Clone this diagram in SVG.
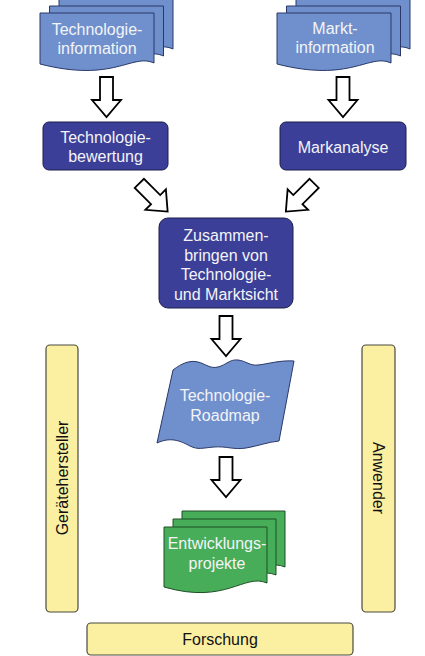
<svg xmlns="http://www.w3.org/2000/svg" xmlns:xlink="http://www.w3.org/1999/xlink" width="425" height="656" viewBox="0 0 425 656">
<defs>
<style>
.doc{fill:#6f90cc;stroke:#2a3868;stroke-width:1}
.green{fill:#47ad58;stroke:#1e4f27;stroke-width:1}
.box{fill:#3b3f97;stroke:#1c1e4a;stroke-width:1}
.bar{fill:#fbf0a2;stroke:#4a4a40;stroke-width:1.2}
.arr{fill:#ffffff;stroke:#000000;stroke-width:1.8;stroke-linejoin:miter}
.wt{fill:#f4f4f8;font-family:"Liberation Sans",Arial,sans-serif;font-size:16px;text-anchor:middle}
.bt{fill:#111111;font-family:"Liberation Sans",Arial,sans-serif;font-size:16px;text-anchor:middle}
</style>
<path id="docA" d="M0,0 H114 V50 C92,40 74,70 0,51 Z"/>
<path id="docG" d="M0,0 H103 V56 C80,46 62,78 0,60 Z"/>
<polygon id="arrow" points="-6.5,-20 6.5,-20 6.5,3 14.5,3 0,20 -14.5,3 -6.5,3"/>
</defs>

<g id="connectors">
<use xlink:href="#arrow" class="arr" transform="translate(106.5,97)"/>
<use xlink:href="#arrow" class="arr" transform="translate(343,97)"/>
<use xlink:href="#arrow" class="arr" transform="translate(153.5,197.5) rotate(-45)"/>
<use xlink:href="#arrow" class="arr" transform="translate(300,197.5) rotate(45)"/>
<use xlink:href="#arrow" class="arr" transform="translate(226,336)"/>
<use xlink:href="#arrow" class="arr" transform="translate(226,477)"/>
</g>

<g id="technologieinformation">
<use xlink:href="#docA" class="doc" transform="translate(59,-1)"/>
<use xlink:href="#docA" class="doc" transform="translate(49.5,6)"/>
<use xlink:href="#docA" class="doc" transform="translate(40,13)"/>
<text class="wt" x="97" y="35">Technologie-</text>
<text class="wt" x="97" y="54">information</text>
</g>

<g id="marktinformation">
<use xlink:href="#docA" class="doc" transform="translate(296,-1)"/>
<use xlink:href="#docA" class="doc" transform="translate(286.5,6)"/>
<use xlink:href="#docA" class="doc" transform="translate(277,13)"/>
<text class="wt" x="335" y="34">Markt-</text>
<text class="wt" x="335" y="53">information</text>
</g>

<g id="technologiebewertung">
<rect class="box" x="43" y="122" width="125" height="48" rx="6"/>
<text class="wt" x="105.5" y="143">Technologie-</text>
<text class="wt" x="105.5" y="162">bewertung</text>
</g>

<g id="markanalyse">
<rect class="box" x="280" y="122" width="126" height="48" rx="6"/>
<text class="wt" x="343" y="152.5">Markanalyse</text>
</g>

<g id="zusammenbringen">
<rect class="box" x="159" y="218" width="134" height="90" rx="9"/>
<text class="wt" x="226" y="241">Zusammen-</text>
<text class="wt" x="226" y="260.5">bringen von</text>
<text class="wt" x="226" y="280">Technologie-</text>
<text class="wt" x="226" y="299.5">und Marktsicht</text>
</g>

<g id="roadmap">
<path class="doc" d="M173,370 C182,363 190,360 198,362 C206,364 210,369 218,367 C226,365 230,359 238,360 C246,361 250,366 258,365 C268,364 280,360 294,361 L279,441 C268,442 258,446 246,448 C234,450 226,446 214,447 C202,448 198,450 190,446 C182,442 172,436 157,443 Z"/>
<text class="wt" x="225" y="401">Technologie-</text>
<text class="wt" x="225" y="421">Roadmap</text>
</g>

<g id="entwicklungsprojekte">
<use xlink:href="#docG" class="green" transform="translate(182,511)"/>
<use xlink:href="#docG" class="green" transform="translate(173,519)"/>
<use xlink:href="#docG" class="green" transform="translate(164,527)"/>
<text class="wt" x="217" y="549">Entwicklungs-</text>
<text class="wt" x="217" y="569">projekte</text>
</g>

<g id="geraetehersteller">
<rect class="bar" x="46" y="345" width="32" height="267" rx="4"/>
<text class="bt" transform="translate(67.5,478) rotate(-90)">Gerätehersteller</text>
</g>

<g id="anwender">
<rect class="bar" x="362" y="345" width="33" height="267" rx="4"/>
<text class="bt" transform="translate(373,478) rotate(90)">Anwender</text>
</g>

<g id="forschung">
<rect class="bar" x="87" y="623" width="266" height="32" rx="4"/>
<text class="bt" x="220" y="644.5">Forschung</text>
</g>
</svg>
